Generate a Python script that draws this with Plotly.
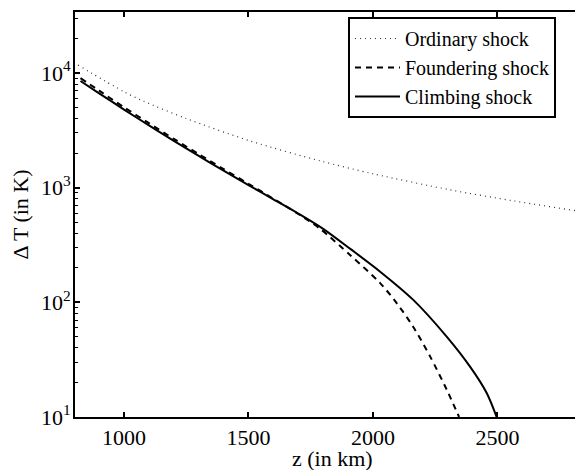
import plotly.graph_objects as go

# Data
ordinary_z = [815, 1000, 1076, 1250, 1507, 1788, 2000, 2311, 2565, 2850, 2900]
ordinary_T = [11700, 6840, 5700, 4000, 2550, 1710, 1320, 955, 766, 612, 590]

foundering_z = [825, 900, 1000, 1100, 1200, 1300, 1400, 1500, 1600, 1700, 1788, 1909, 2029, 2096, 2162, 2230, 2297, 2346]
foundering_T = [9000, 7000, 5010, 3650, 2660, 1960, 1450, 1080, 800, 589, 437, 257, 147, 98, 61, 33.6, 17.2, 10]

climbing_z = [825, 900, 1000, 1100, 1200, 1300, 1400, 1500, 1600, 1700, 1800, 1909, 2029, 2162, 2297, 2390, 2457, 2497]
climbing_T = [8500, 6640, 4790, 3490, 2560, 1890, 1406, 1052, 791, 594, 437, 292, 185, 105, 50, 27.5, 16.2, 10]

x_ticks = [1000, 1500, 2000, 2500]
y_tickvals = [10, 100, 1000, 10000]
y_ticktext = ["10<sup>1</sup>", "10<sup>2</sup>", "10<sup>3</sup>", "10<sup>4</sup>"]
x_title = "z (in km)"
y_title = "Δ T (in K)"

FONT = "Liberation Serif"

fig = go.Figure()
fig.add_trace(go.Scatter(x=ordinary_z, y=ordinary_T, mode="lines", name="Ordinary shock",
                         line=dict(color="#333333", width=1.2, dash="1px,4px", shape="spline", smoothing=0.8)))
fig.add_trace(go.Scatter(x=foundering_z, y=foundering_T, mode="lines", name="Foundering shock",
                         line=dict(color="black", width=2, dash="6px,5px", shape="spline", smoothing=0.8)))
fig.add_trace(go.Scatter(x=climbing_z, y=climbing_T, mode="lines", name="Climbing shock",
                         line=dict(color="black", width=2, shape="spline", smoothing=0.8)))

fig.update_layout(
    width=583, height=470,
    margin=dict(l=67, r=0, t=4, b=61, autoexpand=False),
    paper_bgcolor="white", plot_bgcolor="white",
    font=dict(family=FONT, size=22, color="black"),
    showlegend=True,
    legend=dict(x=(348 - 75) / 516, y=1 - 5 / 405, xanchor="left", yanchor="top",
                bordercolor="black", borderwidth=2, bgcolor="white",
                font=dict(family=FONT, size=20, color="black"),
                itemwidth=45, tracegroupgap=0),
    xaxis=dict(range=[803, 2876], tickvals=x_ticks, ticks="inside", ticklen=5, tickwidth=1.5,
               tickcolor="black", showline=True, linecolor="black", linewidth=2, mirror="ticks",
               showgrid=False, zeroline=False),
    yaxis=dict(type="log", range=[1, 4.531], tickvals=y_tickvals, ticktext=y_ticktext,
               ticks="inside", ticklen=5, tickwidth=1.5, tickcolor="black",
               showline=True, linecolor="black", linewidth=2, mirror=False,
               showgrid=False, zeroline=False, ticklabelstandoff=-2,
               minor=dict(ticks="inside", ticklen=3, tickwidth=1.2, tickcolor="black",
                          dtick="D1", showgrid=False),
               title=dict(text=y_title, standoff=6, font=dict(size=22))),
    annotations=[dict(text=x_title, xref="paper", yref="paper", x=(332 - 75) / 516, y=-42 / 405,
                      xanchor="center", yanchor="middle", showarrow=False,
                      font=dict(family=FONT, size=22, color="black"))],
)

fig.write_html("out.html")
